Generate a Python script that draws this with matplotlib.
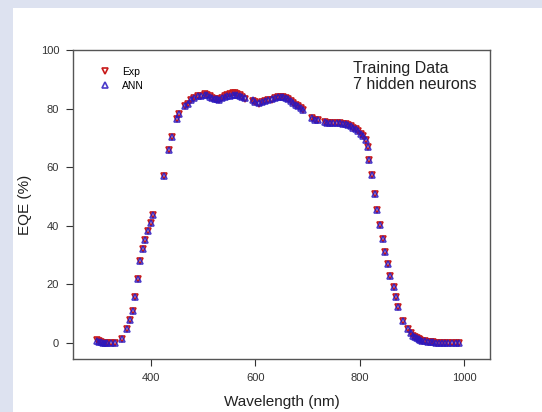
import numpy as np
import matplotlib.pyplot as plt

plt.rcParams['font.family'] = ['Liberation Sans', 'DejaVu Sans']

# EQE spectrum, measured (Exp) vs network prediction (ANN)
wavelength = [296, 300, 304, 308, 312, 316, 322, 330, 344, 354, 360, 365, 369, 374,
              379, 384, 389, 394, 399, 404, 424, 434, 440, 449, 454, 465, 471, 477,
              483, 490, 496, 503, 508, 512, 517, 522, 527, 531, 536, 541, 546, 551,
              556, 560, 565, 570, 575, 580, 595, 600, 607, 612, 618, 624, 631, 637,
              644, 649, 653, 658, 663, 668, 672, 677, 682, 687, 692, 708, 714, 720,
              733, 738, 743, 749, 756, 762, 768, 773, 778, 783, 788, 792, 797, 802,
              807, 813, 815, 818, 824, 829, 834, 839, 844, 849, 854, 859, 865, 869,
              874, 884, 893, 898, 903, 907, 910, 913, 916, 920, 926, 931, 936, 941,
              946, 952, 958, 964, 970, 978, 985, 990]
eqe_exp = [0.9, 0.6, 0.3, 0.1, 0.0, 0.0, 0.0, 0.0, 1.4, 4.8, 7.7, 11.0, 15.7, 21.8,
           27.8, 31.9, 35.3, 38.3, 41.0, 43.8, 56.9, 66.0, 70.2, 76.6, 78.2, 80.8, 81.7, 82.8,
           83.6, 84.2, 84.3, 85.0, 84.5, 84.2, 83.6, 83.4, 83.2, 82.8, 83.5, 84.2, 84.8, 85.1,
           85.3, 85.3, 85.0, 84.5, 84.0, 83.4, 82.7, 82.3, 81.6, 82.2, 82.5, 82.8, 83.0, 83.5,
           83.8, 84.0, 83.8, 83.6, 83.3, 82.6, 81.9, 81.3, 80.8, 80.2, 79.6, 76.8, 76.2, 76.0,
           75.3, 75.2, 75.1, 75.0, 75.1, 75.0, 74.9, 74.6, 74.3, 73.9, 73.4, 72.9, 72.2, 71.4,
           70.5, 69.4, 66.8, 62.6, 57.2, 51.0, 45.3, 40.2, 35.5, 31.1, 27.0, 22.8, 19.0, 15.6,
           12.2, 7.4, 4.6, 3.4, 2.5, 1.9, 1.7, 1.3, 1.1, 0.8, 0.6, 0.4, 0.3, 0.2,
           0.1, 0.1, 0.0, 0.0, 0.0, 0.1, 0.0, 0.0]
eqe_ann = [0.7, 0.4, 0.2, 0.0, 0.0, 0.0, 0.0, 0.0, 1.4, 4.8, 7.7, 11.0, 15.7, 21.8,
           27.8, 31.9, 35.3, 38.3, 41.0, 43.8, 56.9, 66.0, 70.2, 76.6, 78.2, 80.8, 81.7, 82.8,
           83.6, 84.3, 84.4, 84.8, 84.5, 84.1, 83.6, 83.4, 83.2, 83.0, 83.5, 84.0, 84.3, 84.4,
           84.5, 84.6, 84.6, 84.4, 84.0, 83.5, 82.8, 82.4, 81.9, 82.3, 82.6, 82.9, 83.1, 83.5,
           83.8, 83.9, 83.8, 83.5, 83.2, 82.6, 81.9, 81.3, 80.8, 80.2, 79.6, 76.8, 76.2, 76.0,
           75.3, 75.2, 75.1, 75.0, 75.1, 75.0, 74.9, 74.6, 74.3, 73.9, 73.4, 72.9, 72.2, 71.4,
           70.5, 69.4, 66.8, 62.6, 57.2, 51.0, 45.3, 40.2, 35.5, 31.1, 27.0, 22.8, 19.0, 15.6,
           12.2, 7.4, 4.6, 3.4, 2.5, 1.9, 1.7, 1.3, 1.1, 0.8, 0.6, 0.4, 0.3, 0.2,
           0.1, 0.1, 0.0, 0.0, 0.0, 0.1, 0.0, 0.0]

fig = plt.figure(figsize=(5.42, 4.12), dpi=100)
fig.patch.set_facecolor('#dde2f0')
# white panel that holds the chart
panel = fig.add_axes([13 / 542, 0, 1 - 13 / 542, 1 - 8 / 412], zorder=0)
panel.set_facecolor('white')
panel.set_xticks([])
panel.set_yticks([])
for s in panel.spines.values():
    s.set_visible(False)

ax = fig.add_axes([73 / 542, 1 - 359 / 412, 417 / 542, 309 / 412], zorder=2)
ax.plot(wavelength, eqe_exp, 'v', ms=3.8, mfc='none', mec='#c81a1a', mew=1.2, label='Exp')
ax.plot(wavelength, eqe_ann, '^', ms=3.8, mfc='none', mec='#2a18c0', mew=1.2, alpha=0.85, label='ANN')

ax.set_xlim(250, 1050)
ax.set_ylim(-5.5, 100)
ax.set_xticks([400, 600, 800, 1000])
ax.set_yticks([0, 20, 40, 60, 80, 100])
ax.tick_params(direction='out', length=5, width=0.8, pad=5, labelsize=8, colors='#333333',
               top=False, right=False)
for s in ax.spines.values():
    s.set_color('#555555')
    s.set_linewidth(1.0)
ax.set_xlabel('Wavelength (nm)', fontsize=11, color='#222222', labelpad=9)
ax.set_ylabel('EQE (%)', fontsize=11, color='#222222', labelpad=6)

leg = ax.legend(loc='upper left', bbox_to_anchor=(0.035, 0.975), frameon=False, fontsize=7.5,
                handletextpad=0.9, labelspacing=0.35, handlelength=1.5)
ax.text(280 / 417, 1 - 11 / 309, 'Training Data\n7 hidden neurons', transform=ax.transAxes,
        ha='left', va='top', fontsize=11.5, color='#222222', linespacing=1.1)

fig.savefig('out.png', dpi=100)
